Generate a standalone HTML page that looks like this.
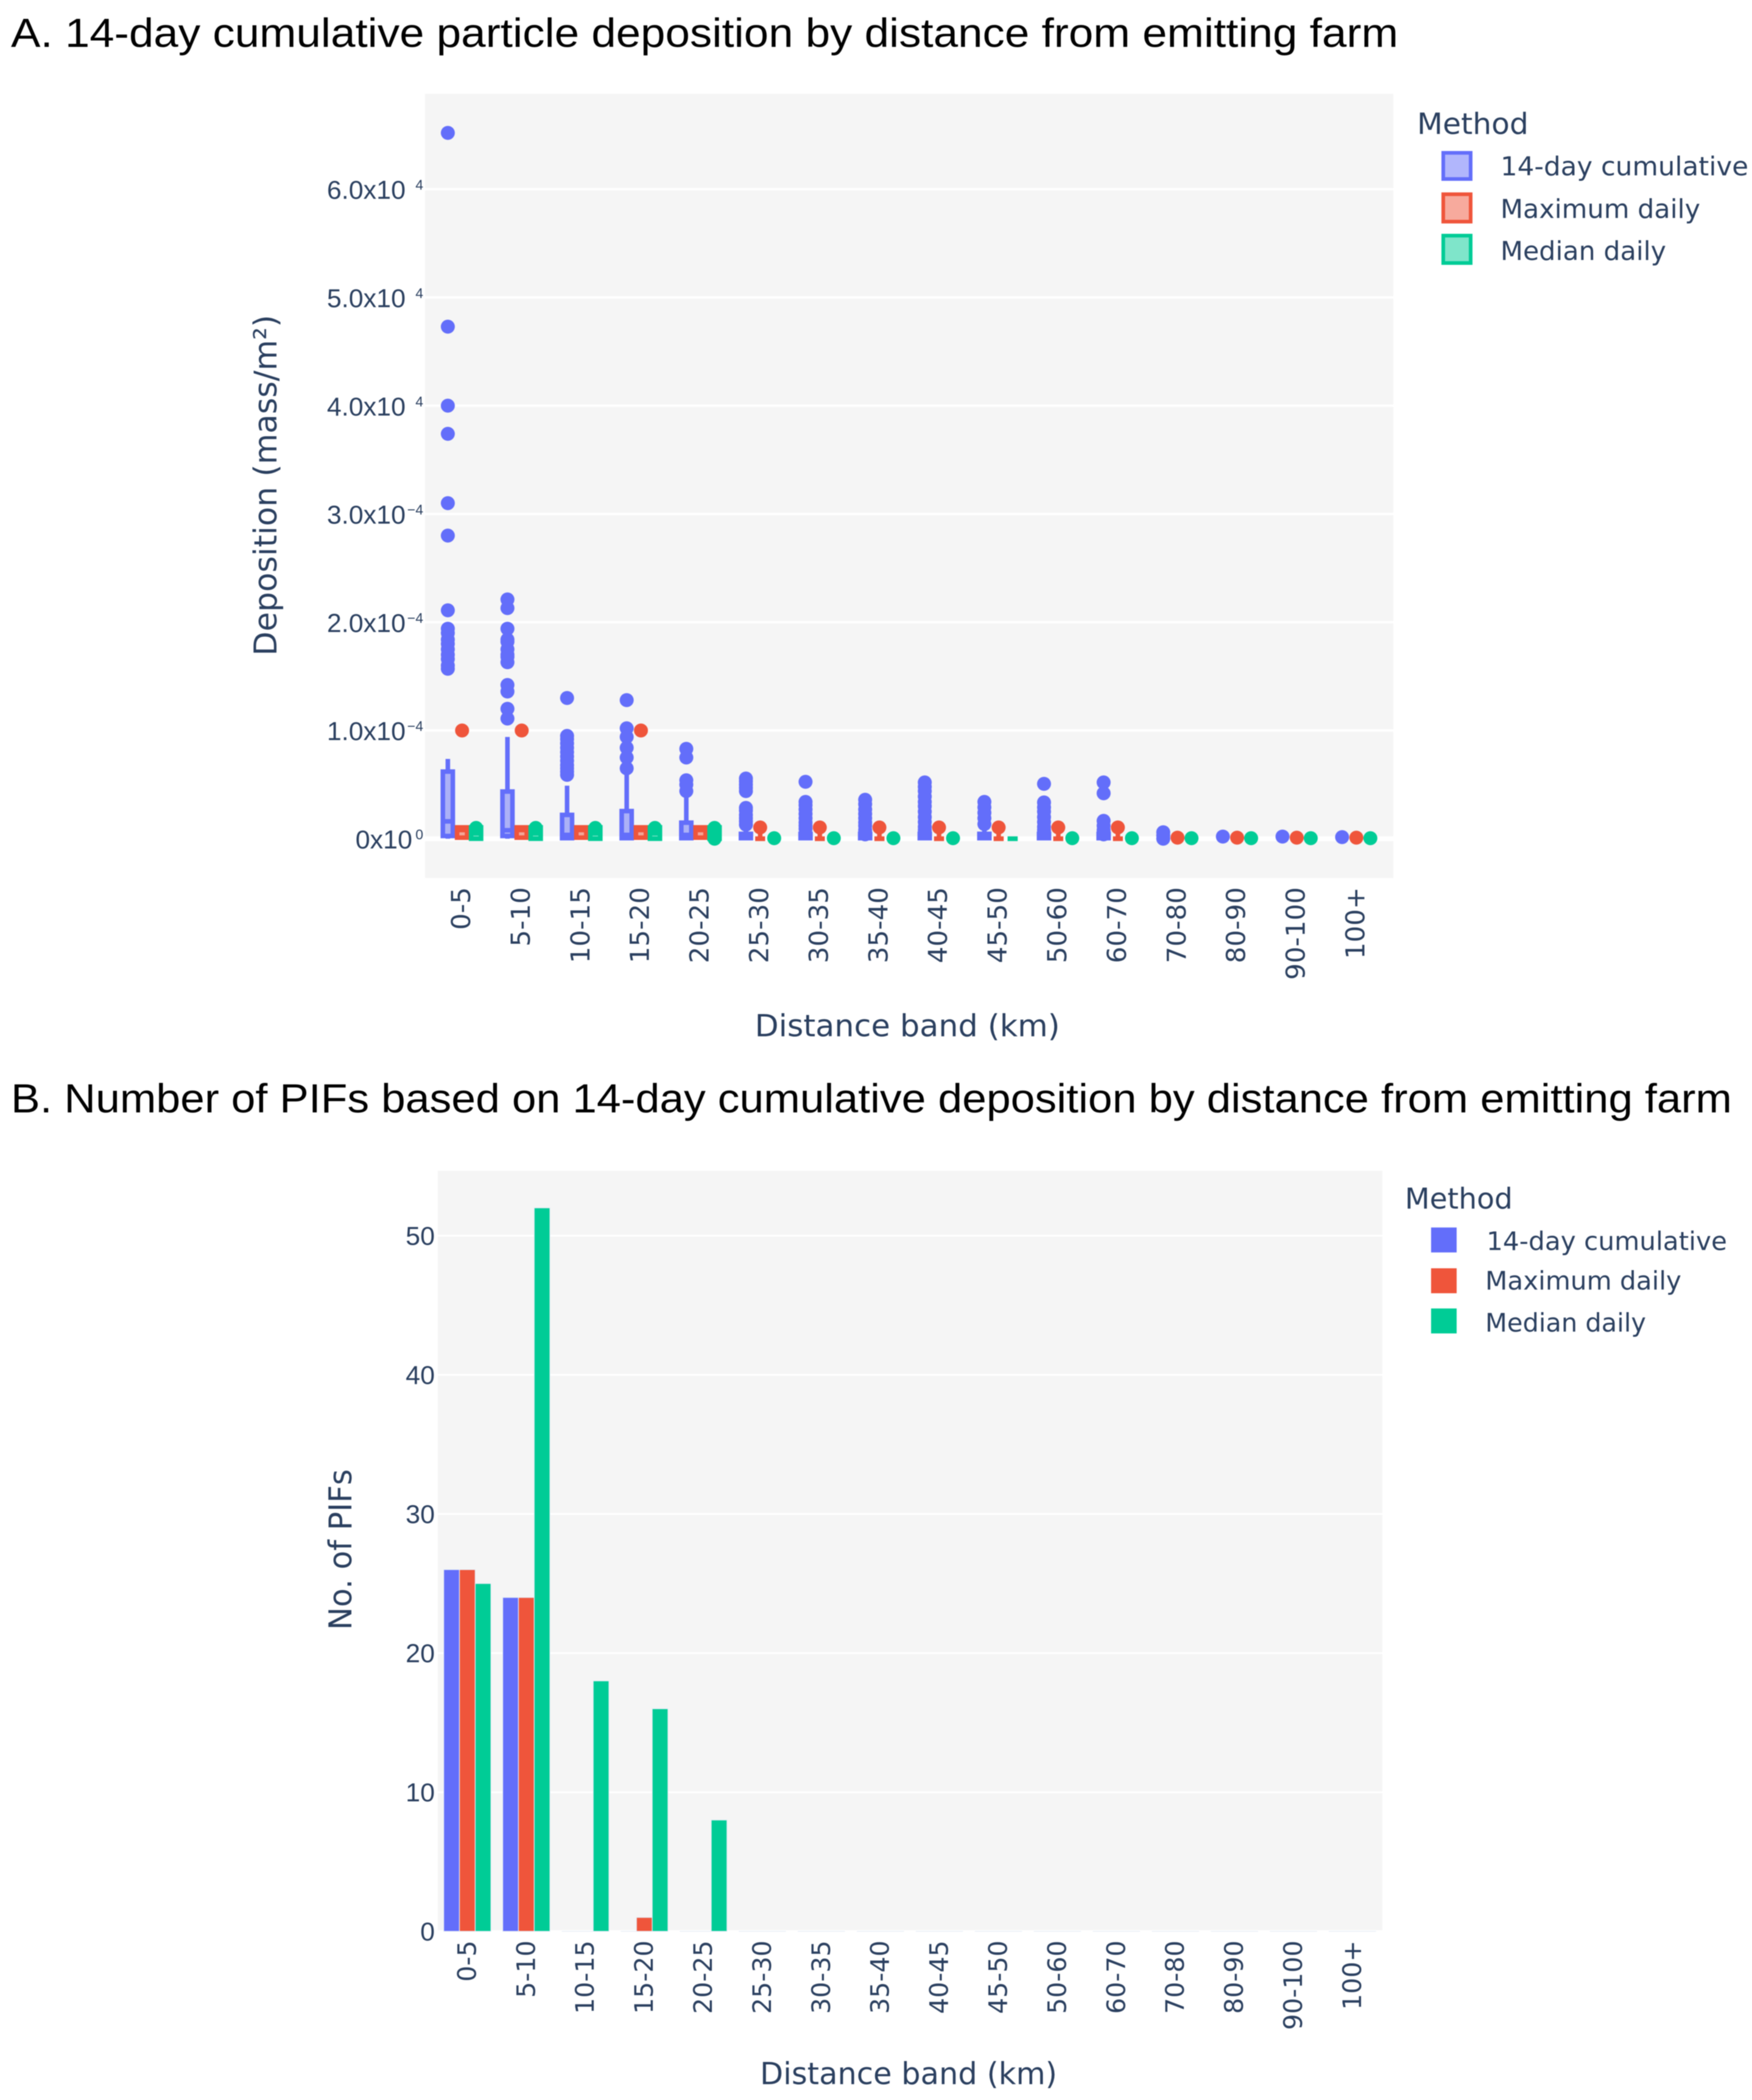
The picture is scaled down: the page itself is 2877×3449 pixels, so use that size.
<!DOCTYPE html>
<html lang="en">
<head>
<meta charset="utf-8">
<title>Particle deposition and PIFs by distance from emitting farm</title>
<style>
html,body{margin:0;padding:0;background:#fff}
svg{display:block;filter:blur(0.8px)}
text{font-family:"DejaVu Sans","Liberation Sans",sans-serif;fill:#2a3f5f}
.heading{font-family:"Liberation Sans",sans-serif;fill:#000;font-size:67px}
.tick-num{font-family:"Liberation Sans",sans-serif;font-size:43px}
.sup{font-family:"Liberation Sans",sans-serif;font-size:23px}
.cat{font-size:43px}
.axis-title{font-size:50px}
.legend-title{font-size:48px}
.legend-item{font-size:43px}
</style>
</head>
<body>
<svg id="figure" xmlns="http://www.w3.org/2000/svg" width="2877" height="3449" viewBox="0 0 2877 3449">
  <rect x="0" y="0" width="2877" height="3449" fill="#ffffff"/>

  <text class="heading" x="18" y="77" textLength="2278" lengthAdjust="spacingAndGlyphs">A. 14-day cumulative particle deposition by distance from emitting farm</text>
  <rect x="698" y="154" width="1590" height="1288" fill="#f5f5f5"/>
  <g id="panelA"></g>
  <text class="axis-title" style="font-size:52px" text-anchor="middle" textLength="560" lengthAdjust="spacingAndGlyphs" transform="translate(454,797) rotate(-90)">Deposition (mass/m²)</text>
  <text class="axis-title" text-anchor="middle" x="1490" y="1702" textLength="501" lengthAdjust="spacingAndGlyphs">Distance band (km)</text>

  <g>
    <text class="legend-title" x="2327" y="220" textLength="183" lengthAdjust="spacingAndGlyphs">Method</text>
    <rect x="2370" y="251" width="45" height="43" fill="rgba(99,110,250,.5)" stroke="#636efa" stroke-width="6"/>
    <text class="legend-item" x="2464" y="288" textLength="407" lengthAdjust="spacingAndGlyphs">14-day cumulative</text>
    <rect x="2370" y="319" width="45" height="45" fill="rgba(239,85,59,.5)" stroke="#ef553b" stroke-width="6"/>
    <text class="legend-item" x="2464" y="358" textLength="328" lengthAdjust="spacingAndGlyphs">Maximum daily</text>
    <rect x="2370" y="387" width="45" height="45" fill="rgba(0,204,150,.5)" stroke="#00cc96" stroke-width="6"/>
    <text class="legend-item" x="2464" y="427" textLength="272" lengthAdjust="spacingAndGlyphs">Median daily</text>
  </g>

  <text class="heading" x="18" y="1827" textLength="2826" lengthAdjust="spacingAndGlyphs">B. Number of PIFs based on 14-day cumulative deposition by distance from emitting farm</text>
  <rect x="719" y="1923" width="1551" height="1251" fill="#f5f5f5"/>
  <g id="panelB"></g>
  <text class="axis-title" style="font-size:52px" text-anchor="middle" textLength="264" lengthAdjust="spacingAndGlyphs" transform="translate(577,2545) rotate(-90)">No. of PIFs</text>
  <text class="axis-title" text-anchor="middle" x="1492" y="3423" textLength="488" lengthAdjust="spacingAndGlyphs">Distance band (km)</text>

  <g>
    <text class="legend-title" style="font-size:47px" x="2307" y="1985" textLength="177" lengthAdjust="spacingAndGlyphs">Method</text>
    <rect x="2350" y="2016" width="42" height="41" fill="#636efa"/>
    <text class="legend-item" style="font-size:42px" x="2441" y="2053" textLength="395" lengthAdjust="spacingAndGlyphs">14-day cumulative</text>
    <rect x="2350" y="2083" width="42" height="41" fill="#ef553b"/>
    <text class="legend-item" style="font-size:42px" x="2439" y="2118" textLength="322" lengthAdjust="spacingAndGlyphs">Maximum daily</text>
    <rect x="2350" y="2149" width="42" height="41" fill="#00cc96"/>
    <text class="legend-item" style="font-size:42px" x="2439" y="2187" textLength="264" lengthAdjust="spacingAndGlyphs">Median daily</text>
  </g>
</svg>

<script>
// Shared categories
const distanceBands = ["0-5","5-10","10-15","15-20","20-25","25-30","30-35","35-40","40-45","45-50","50-60","60-70","70-80","80-90","90-100","100+"];

// Panel A — tick labels and values, all in units of 1e-4 mass/m²
const depositionTicks = [0,1,2,3,4,5,6];
const depositionTickMantissas = ["0x10","1.0x10","2.0x10","3.0x10","4.0x10","5.0x10","6.0x10"];
const depositionTickExponents = ["0","\u22124","\u22124","\u22124","4","4","4"];

const cumulativeOutliers = [
  [6.52,4.73,4.0,3.74,3.10,2.80,2.11,1.94,1.90,1.84,1.80,1.75,1.70,1.66,1.60,1.57],
  [2.21,2.13,1.94,1.84,1.82,1.75,1.70,1.68,1.63,1.42,1.36,1.20,1.11],
  [1.30,0.95,0.92,0.88,0.84,0.80,0.76,0.72,0.68,0.65,0.62,0.59],
  [1.28,1.02,0.94,0.84,0.75,0.65],
  [0.83,0.75,0.54,0.50,0.44],
  [0.556,0.53,0.50,0.47,0.44,0.285,0.26,0.22,0.19,0.16,0.13],
  [0.526,0.34,0.31,0.27,0.23,0.19,0.15,0.12,0.09],
  [0.36,0.32,0.27,0.23,0.19,0.15,0.12,0.08,0.04],
  [0.52,0.48,0.44,0.39,0.34,0.30,0.25,0.20,0.155,0.11,0.08],
  [0.34,0.29,0.24,0.19,0.135],
  [0.507,0.335,0.29,0.25,0.20,0.155,0.11,0.08],
  [0.52,0.42,0.165,0.12,0.08,0.04],
  [0.06,0.03,0.0],
  [0.02],
  [0.02],
  [0.015]
];
const cumulativeQ3 = [0.62,0.436,0.22,0.255,0.148,0.045,0.045,0.045,0.045,0.045,0.045,0.045,null,null,null,null];
const cumulativeMedian = [0.16,0.078,0.035,0.035,0.035,0.02,0.02,0.02,0.02,0.02,0.02,0.02,null,null,null,null];
const cumulativeQ1 = [0.025,0.025,0.005,0.005,0.005,0.005,0.005,0.005,0.005,0.005,0.005,0.005,null,null,null,null];
const cumulativeWhiskerHigh = [0.737,0.94,0.49,0.6,0.38,0.1,0.1,0.1,0.1,0.1,0.1,0.1,null,null,null,null];
const cumulativeWhiskerLow = [0,0,0,0,0,0,0,0,0,0,0,0,null,null,null,null];

const maximumOutliers = [[1.0],[1.0],[],[1.0],[],[0.104],[0.104],[0.104],[0.104],[0.104],[0.104],[0.104],[0.01],[0.01],[0.01],[0.01]];
const maximumQ3 = [0.105,0.105,0.105,0.105,0.105,0,0,0,0,0,0,0,null,null,null,null];
const maximumMedian = [0.08,0.08,0.08,0.08,0.08,0,0,0,0,0,0,0,null,null,null,null];
const maximumQ1 = [0.01,0.01,0.01,0.01,0.01,0,0,0,0,0,0,0,null,null,null,null];
const maximumWhiskerHigh = [0.105,0.105,0.105,0.105,0.105,0.07,0.07,0.07,0.07,0.07,0.07,0.07,null,null,null,null];
const maximumWhiskerLow = [0,0,0,0,0,0,0,0,0,0,0,0,null,null,null,null];

const medianOutliers = [[0.1],[0.1],[0.1],[0.1],[0.1,0.0],[0.005],[0.005],[0.005],[0.005],[],[0.005],[0.005],[0.005],[0.005],[0.005],[0.005]];
const medianQ3 = [0.105,0.105,0.105,0.105,0.105,0,0,0,0,0,0,0,null,null,null,null];
const medianMedian = [0.05,0.05,0.05,0.05,0.05,0,0,0,0,0,0,0,null,null,null,null];
const medianQ1 = [0,0,0,0,0,0,0,0,0,0,0,0,null,null,null,null];

// Panel B — PIF counts
const pifTicks = [0,10,20,30,40,50];
const pifCumulative = [26,24,0,0,0,0,0,0,0,0,0,0,0,0,0,0];
const pifMaximum = [26,24,0,1,0,0,0,0,0,0,0,0,0,0,0,0];
const pifMedian = [25,52,18,16,8,0,0,0,0,0,0,0,0,0,0,0];

const NS = 'http://www.w3.org/2000/svg';
const BLUE = '#636efa', RED = '#ef553b', GREEN = '#00cc96';

function make(parent, tag, attrs, content) {
  const node = document.createElementNS(NS, tag);
  for (const key in attrs) node.setAttribute(key, attrs[key]);
  if (content !== undefined) node.textContent = content;
  parent.appendChild(node);
  return node;
}

// Axis functions
const xA = i => 758 + 97.9 * i;
const yA = v => 1377.5 - 177.8 * v;
const xB = i => 767.4 + 96.9 * i;
const yB = v => 3172 - 22.85 * v;

// ---------- Panel A ----------
const panelA = document.getElementById('panelA');

depositionTicks.forEach((t, k) => {
  const grid = make(panelA, 'line', {x1: 698, x2: 2288, y1: yA(t), y2: yA(t), stroke: '#ffffff', 'stroke-width': t === 0 ? 8 : 4});
  
  
  const endX = depositionTickExponents[k] === '0' ? 677 : 666;
  const mant = make(panelA, 'text', {class: 'tick-num', x: endX, y: yA(t) + 16, 'text-anchor': 'end'}, depositionTickMantissas[k]);
  
  
  const exp = make(panelA, 'text', {class: 'sup', x: 695, y: yA(t) + 1, 'text-anchor': 'end'}, depositionTickExponents[k]);
  
  
});

distanceBands.forEach((band, i) => {
  const lab = make(panelA, 'text', {class: 'cat', 'text-anchor': 'end', transform: 'translate(' + (xA(i) + 14) + ',1457) rotate(-90)'}, band);
  
  
});

function drawBoxTrace(color, rgba, offset, name, q1s, meds, q3s, whiskHigh, whiskLow, outliers) {
  const half = 8.2, sw = 7.5;
  distanceBands.forEach((band, i) => {
    const cx = xA(i) + offset;
    if (q3s[i] !== null) {
      const box = make(panelA, 'path', {
        d: 'M' + (cx - half) + ' ' + yA(q1s[i]) + 'H' + (cx + half) + 'V' + yA(q3s[i]) + 'H' + (cx - half) + 'Z',
        fill: rgba, stroke: color, 'stroke-width': sw, 'stroke-linejoin': 'miter', 'stroke-miterlimit': 4
      });
      
      
      const med = make(panelA, 'line', {x1: cx - half, x2: cx + half, y1: yA(meds[i]), y2: yA(meds[i]), stroke: color, 'stroke-width': sw});
      
      
      if (whiskHigh) {
        const wh = make(panelA, 'line', {x1: cx, x2: cx, y1: yA(q3s[i]), y2: yA(whiskHigh[i]), stroke: color, 'stroke-width': sw});
        
        
        const wl = make(panelA, 'line', {x1: cx, x2: cx, y1: yA(q1s[i]), y2: yA(whiskLow[i]), stroke: color, 'stroke-width': sw});
        
        
      }
    }
    outliers[i].forEach(v => {
      const dot = make(panelA, 'circle', {cx: cx, cy: yA(v), r: 11.5, fill: color});
      
      
    });
  });
}

drawBoxTrace(BLUE, 'rgba(99,110,250,.5)', -22.6, 'cumulative', cumulativeQ1, cumulativeMedian, cumulativeQ3, cumulativeWhiskerHigh, cumulativeWhiskerLow, cumulativeOutliers);
drawBoxTrace(RED, 'rgba(239,85,59,.5)', 0.8, 'maximum', maximumQ1, maximumMedian, maximumQ3, maximumWhiskerHigh, maximumWhiskerLow, maximumOutliers);
drawBoxTrace(GREEN, 'rgba(0,204,150,.5)', 23.8, 'median', medianQ1, medianMedian, medianQ3, null, null, medianOutliers);

// ---------- Panel B ----------
const panelB = document.getElementById('panelB');

pifTicks.forEach(t => {
  const grid = make(panelB, 'line', {x1: 719, x2: 2270, y1: yB(t), y2: yB(t), stroke: '#ffffff', 'stroke-width': t === 0 ? 4 : 3});
  
  
  const lab = make(panelB, 'text', {class: 'tick-num', x: 714, y: yB(t) + 15, 'text-anchor': 'end'}, String(t));
  
  
});

distanceBands.forEach((band, i) => {
  const lab = make(panelB, 'text', {class: 'cat', style: 'font-size:41.5px', 'text-anchor': 'end', transform: 'translate(' + (xB(i) + 14) + ',3187) rotate(-90)'}, band);
  
  
});

function drawBars(values, color, slot, name) {
  const bw = 96.9 * 0.8 / 3;
  values.forEach((v, i) => {
    const x = xB(i) - 38.76 + slot * bw;
    const bar = make(panelB, 'path', {
      d: 'M' + x + ' ' + yB(0) + 'V' + yB(v) + 'H' + (x + bw) + 'V' + yB(0) + 'Z',
      fill: color, stroke: '#e5ecf6', 'stroke-width': 1.2
    });
    
    
  });
}

drawBars(pifCumulative, BLUE, 0, 'pif-cumulative');
drawBars(pifMaximum, RED, 1, 'pif-maximum');
drawBars(pifMedian, GREEN, 2, 'pif-median');
</script>
</body>
</html>
